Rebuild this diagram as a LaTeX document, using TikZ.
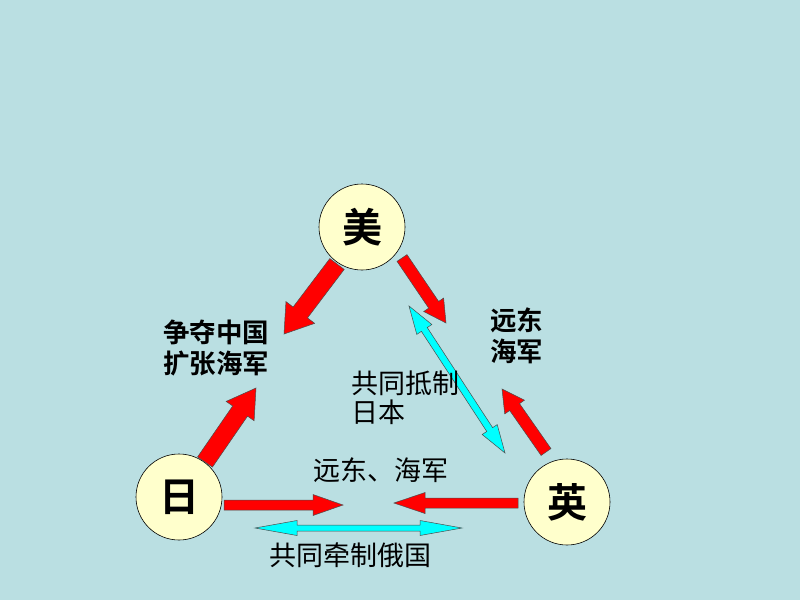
\documentclass[tikz,border=0pt]{standalone}
\usepackage{fontspec}
\newfontfamily\cjk{Noto Sans CJK SC}
\newfontfamily\cjkb{Noto Sans CJK SC Bold}
\usetikzlibrary{calc}
\definecolor{bgc}{RGB}{186,223,226}
\definecolor{circfill}{RGB}{255,255,204}
\definecolor{arrred}{RGB}{255,0,0}
\definecolor{arrcyan}{RGB}{0,255,255}
\tikzset{
  country/.style={circle,draw=black,line width=0.6pt,fill=circfill,minimum size=86pt,inner sep=0pt,font=\cjkb\fontsize{40}{40}\selectfont},
  redarrow/.style={fill=arrred,draw=black!70,line width=0.5pt,line join=miter},
  cyanarrow/.style={fill=arrcyan,draw=black!70,line width=0.5pt,line join=miter},
  lblb/.style={anchor=north west,align=left,inner sep=0pt,font=\cjkb\fontsize{26.5}{31}\selectfont},
  lbl/.style={anchor=north west,align=left,inner sep=0pt,font=\cjk\fontsize{27}{29}\selectfont}
}
% single block arrow: style, tail, tip, half shaft, half head, head length
\newcommand\sarrow[6]{%
  \path[#1]
    coordinate (hh) at ($(#3)!#6!(#2)$)
    ($(#2)!#4!90:(#3)$) -- ($(hh)!#4!90:(#3)$) -- ($(hh)!#5!90:(#3)$) -- (#3)
    -- ($(hh)!#5!-90:(#3)$) -- ($(hh)!#4!-90:(#3)$) -- ($(#2)!#4!-90:(#3)$) -- cycle;}
% double block arrow: style, end A, end B, half shaft, half head, head length
\newcommand\darrow[6]{%
  \path[#1]
    coordinate (ha) at ($(#2)!#6!(#3)$)
    coordinate (hb) at ($(#3)!#6!(#2)$)
    (#2) -- ($(ha)!#5!90:(#3)$) -- ($(ha)!#4!90:(#3)$) -- ($(hb)!#4!90:(#3)$) -- ($(hb)!#5!90:(#3)$)
    -- (#3) -- ($(hb)!#5!-90:(#3)$) -- ($(hb)!#4!-90:(#3)$) -- ($(ha)!#4!-90:(#3)$) -- ($(ha)!#5!-90:(#3)$) -- cycle;}
\begin{document}
\begin{tikzpicture}[x=1pt,y=-1pt]
\fill[bgc] (0,0) rectangle (800,600);
\useasboundingbox (0,0) rectangle (800,600);

\node[country] (mei) at (362,227) {美};
\node[country] (ri) at (179,497) {日};
\node[country] (ying) at (567,502) {英};

% arrow end points
\coordinate (a1t) at (337,264); \coordinate (a1h) at (284,334);
\coordinate (a2t) at (402,258); \coordinate (a2h) at (446,323);
\coordinate (a3t) at (546,452); \coordinate (a3h) at (502,389);
\coordinate (a4t) at (205,462); \coordinate (a4h) at (256,388);
\coordinate (a5t) at (224,505); \coordinate (a5h) at (343,505);
\coordinate (a6t) at (518,503); \coordinate (a6h) at (394,503);
\coordinate (c1a) at (409,306); \coordinate (c1b) at (505,453);
\coordinate (c2a) at (255,528); \coordinate (c2b) at (462,528);

\sarrow{redarrow}{a1t}{a1h}{9pt}{18pt}{27pt}
\sarrow{redarrow}{a2t}{a2h}{6pt}{12pt}{22pt}
\sarrow{redarrow}{a3t}{a3h}{6pt}{12pt}{22pt}
\sarrow{redarrow}{a4t}{a4h}{9pt}{17pt}{28pt}
\sarrow{redarrow}{a5t}{a5h}{5pt}{10.5pt}{30pt}
\sarrow{redarrow}{a6t}{a6h}{5pt}{10.5pt}{31pt}
\darrow{cyanarrow}{c1a}{c1b}{3.5pt}{9pt}{28pt}
\darrow{cyanarrow}{c2a}{c2b}{3pt}{7.5pt}{42pt}

\node[lblb] (t1) at (163,320) {争夺中国\\扩张海军};
\node[lblb] (t2) at (490,308) {远东\\海军};
\node[lbl] (t3) at (351,371) {共同抵制\\日本};
\node[lbl] (t4) at (313,457) {远东、海军};
\node[lbl] (t5) at (269,543) {共同牵制俄国};
\end{tikzpicture}
\end{document}
